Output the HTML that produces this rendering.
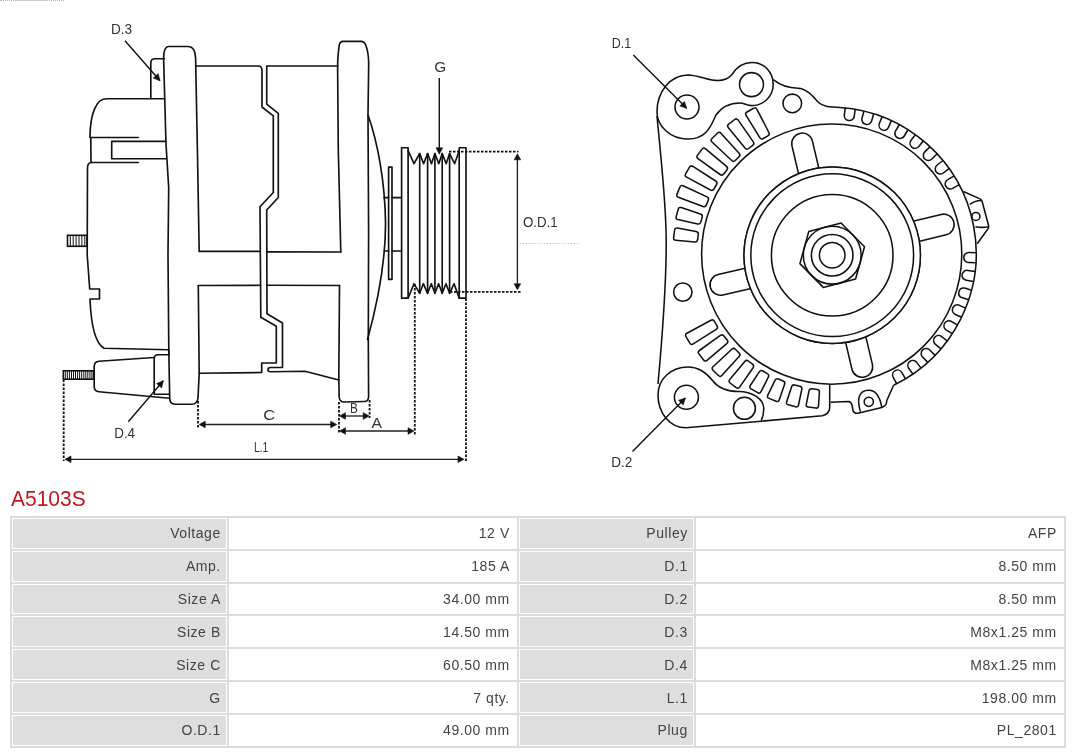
<!DOCTYPE html>
<html><head><meta charset="utf-8">
<style>
html,body{margin:0;padding:0;background:#fff;width:1080px;height:753px;overflow:hidden;}
body{position:relative;font-family:"Liberation Sans",sans-serif;}
svg.dr{position:absolute;left:0;top:0;filter:grayscale(1);}
.k{fill:none;stroke:#111;stroke-width:1.65;stroke-linejoin:round;stroke-linecap:round;}
.k2{fill:none;stroke:#111;stroke-width:1.6;}
.h{stroke:#111;stroke-width:1;}
.r{fill:none;stroke:#111;stroke-width:1.55;stroke-linejoin:round;}
.dm{stroke:#222;stroke-width:1.35;}
.ld{stroke:#111;stroke-width:1.4;}
.ds{stroke:#111;stroke-width:1.8;stroke-dasharray:2.5 1.5;}
.lb{font-family:"Liberation Sans",sans-serif;font-size:15px;fill:#333;}
.topdots{position:absolute;left:0;top:0;width:64px;height:0;border-top:1px dotted #bbb;}
.topbar{position:absolute;left:16px;top:0;width:32px;height:1px;background:#c9cdd2;}
h1{position:absolute;left:11px;top:486.5px;margin:0;font-size:21px;font-weight:normal;color:#c1161f;line-height:24px;transform:scaleY(1.065);transform-origin:0 19.3px;}
table{filter:grayscale(1);position:absolute;left:10px;top:516px;width:1056px;border-collapse:separate;border-spacing:2px;background:#dcdcdc;table-layout:fixed;}
td{border:1px solid #fff;height:30.83px;padding:0 5.2px 0 0;text-align:right;font-size:14px;letter-spacing:0.56px;color:#444;box-sizing:border-box;}
td.l{background:#dedede;}
td.v{background:#fff;padding-right:6.2px;}
</style></head><body>
<div class="topdots"></div><div class="topbar"></div>
<svg class="dr" width="1080" height="480" viewBox="0 0 1080 480">
<path class="k" d="M199.2,251.3 L197.5,155 L195.6,58 C195.2,51 192.5,46.5 188.5,46.5 L168.5,46.5 C165.5,46.5 163.8,51 163.6,58 L166,144 L168.7,187.5 L168,255 L168.8,350 L169.7,398 C169.7,401 171,404.2 175,404.2 L192,404.2 C195,404.2 197.5,402 198,398 L199.2,373.3 L198.3,285.5"/>
<path class="k" d="M164.5,58.7 L155,58.7 C152,58.7 150.8,60.5 150.8,63 L150.8,98.3"/>
<path class="k" d="M164.8,98.7 L106,98.7 C96,98.7 90,115 90,137.5 L138.3,137.5"/>
<path class="k" d="M90.8,137.5 L91,162.5 L138.3,162.5"/>
<path class="k" d="M166,141.3 L111.7,141.3 L111.7,158.7 L166.3,158.7"/>
<path class="k" d="M91,162.5 C88.5,163 87.5,165 87.5,168 L87.2,255 L89.7,289 L99.5,289 L99.5,299 L90,299 C91,325 95,343 104,348.3 L168.5,349.7"/>
<rect class="k2" x="67.5" y="235.3" width="19.5" height="11"/>
<line class="h" x1="70.3" y1="235.3" x2="70.3" y2="246.3"/>
<line class="h" x1="73.2" y1="235.3" x2="73.2" y2="246.3"/>
<line class="h" x1="76.1" y1="235.3" x2="76.1" y2="246.3"/>
<line class="h" x1="79.0" y1="235.3" x2="79.0" y2="246.3"/>
<line class="h" x1="81.9" y1="235.3" x2="81.9" y2="246.3"/>
<line class="h" x1="84.8" y1="235.3" x2="84.8" y2="246.3"/>
<path class="k" d="M154.2,357.5 L99,361.2 C96,361.5 94.2,363.5 94.2,366.5 L94.2,386.5 C94.2,389.5 96,391.5 99,391.7 L169.4,398.3"/>
<path class="k" d="M169,354.7 L158,354.7 C155.5,354.7 154.2,356.5 154.2,359 L154.2,394.2 L169.2,394.2"/>
<path class="k" d="M168.8,350.5 L168.8,354.7"/>
<rect class="k2" x="63.3" y="370.8" width="30.4" height="8.4"/>
<line class="h" x1="65.3" y1="370.8" x2="65.3" y2="379.2"/>
<line class="h" x1="67.3" y1="370.8" x2="67.3" y2="379.2"/>
<line class="h" x1="69.4" y1="370.8" x2="69.4" y2="379.2"/>
<line class="h" x1="71.5" y1="370.8" x2="71.5" y2="379.2"/>
<line class="h" x1="73.5" y1="370.8" x2="73.5" y2="379.2"/>
<line class="h" x1="75.5" y1="370.8" x2="75.5" y2="379.2"/>
<line class="h" x1="77.6" y1="370.8" x2="77.6" y2="379.2"/>
<line class="h" x1="79.6" y1="370.8" x2="79.6" y2="379.2"/>
<line class="h" x1="81.7" y1="370.8" x2="81.7" y2="379.2"/>
<line class="h" x1="83.8" y1="370.8" x2="83.8" y2="379.2"/>
<line class="h" x1="85.8" y1="370.8" x2="85.8" y2="379.2"/>
<line class="h" x1="87.8" y1="370.8" x2="87.8" y2="379.2"/>
<line class="h" x1="89.9" y1="370.8" x2="89.9" y2="379.2"/>
<line class="h" x1="91.9" y1="370.8" x2="91.9" y2="379.2"/>
<path class="k" d="M195.8,66 L258.5,66 C261,66 262,68 262,71 L262,107 L273.3,115.8 L273.3,192.5 L260,206.7 L260.8,317.2 L276.3,326.3 L276.3,363 L261.7,363 L261.7,372.5 L199.2,373.3"/>
<path class="k" d="M338,66 L266.7,66 L266.7,104.2 L278.3,113.3 L278.3,197.5 L266.7,210 L267,313.7 L282.5,323 L282.5,367.5 L270.5,367.5 C268.5,367.5 268,368.5 268,370 C268,371.5 269,371.7 270.5,371.7 L305,371.3 L338.8,380"/>
<path class="k" d="M199.2,251.3 L260,251.3 M266.7,251.8 L340.8,252"/>
<path class="k" d="M198.3,285.5 L260.7,285.3 M267,285.3 L339.5,285.5"/>
<path class="k" d="M340.8,252 L338.3,150 L337.6,66 C337.8,58 338.5,50 339.2,45.5 C339.6,42.5 340.5,41.3 343,41.3 L361.5,41.3 C363.5,41.3 364.5,42.5 365.5,44.5 C367,48 368.5,54 368.7,63 L368,115 L368.6,230 L368.3,340 L368.6,396.5 C368.6,400 367,401.5 364.5,401.5 L344,402 C341,402 339.2,399.5 339.2,396.5 L338.8,380 L339.5,285.5"/>
<path class="k" d="M368,115 C378,143 385,183 385.5,222 C385.8,265 377,305 367.5,339.5"/>
<rect class="k" x="388.6" y="167.1" width="3.4" height="112.3"/>
<path class="k" d="M384,197.6 L388.6,197.6 M392,197.6 L401.6,197.6 M384.5,251 L388.6,251 M392,251 L401.6,251"/>
<rect class="k" x="401.6" y="147.7" width="6.5" height="150.4"/>
<rect class="k" x="459.2" y="147.7" width="6.8" height="150.4"/>
<path class="k" d="M408.1,150.7 L414,163.7 L419.7,153.5 L423.6,163.7 L427.6,153.5 L431.5,163.7 L434.9,153.5 L438.8,163.7 L442.2,153.5 L446.2,163.7 L449.6,153.5 L454.6,163.7 L459.2,150.7"/>
<path class="k" d="M408.1,298.1 L414,283.7 L419.7,293.3 L423.3,283.7 L427.6,293.3 L431.3,283.7 L434.9,293.3 L438.6,283.7 L442.2,293.3 L446,283.7 L449.6,293.3 L454.1,283.7 L459.2,298.1"/>
<line class="k" x1="419.7" y1="153.5" x2="419.7" y2="293.3"/>
<line class="k" x1="427.6" y1="153.5" x2="427.6" y2="293.3"/>
<line class="k" x1="434.9" y1="153.5" x2="434.9" y2="293.3"/>
<line class="k" x1="442.2" y1="153.5" x2="442.2" y2="293.3"/>
<line class="k" x1="449.6" y1="153.5" x2="449.6" y2="293.3"/>
<line class="ds" x1="449" y1="151.7" x2="518.5" y2="151.7"/>
<line class="ds" x1="450" y1="291.9" x2="521.5" y2="291.9"/>
<line class="ds" x1="63.7" y1="379.5" x2="63.7" y2="461"/>
<line class="ds" x1="198" y1="401" x2="198" y2="427.5"/>
<line class="ds" x1="339" y1="402" x2="339" y2="434"/>
<line class="ds" x1="369.6" y1="400" x2="369.6" y2="418"/>
<line class="ds" x1="414.8" y1="284" x2="414.8" y2="434.5"/>
<line class="ds" x1="466" y1="298.5" x2="466" y2="461.5"/>
<line x1="519.5" y1="243.5" x2="580" y2="243.5" stroke="#ccc" stroke-width="1" stroke-dasharray="1.5 1.5"/>
<line x1="517.4" y1="156.8" x2="517.4" y2="286.8" class="dm"/><path d="M517.4,153.8 L520.7,159.8 L514.1,159.8 Z" fill="#111" stroke="#111" stroke-width="0.6" stroke-linejoin="miter"/><path d="M517.4,289.8 L514.1,283.8 L520.7,283.8 Z" fill="#111" stroke="#111" stroke-width="0.6" stroke-linejoin="miter"/>
<line x1="202.2" y1="424.5" x2="333.7" y2="424.5" class="dm"/><path d="M199.2,424.5 L205.2,421.2 L205.2,427.8 Z" fill="#111" stroke="#111" stroke-width="0.6" stroke-linejoin="miter"/><path d="M336.7,424.5 L330.7,427.8 L330.7,421.2 Z" fill="#111" stroke="#111" stroke-width="0.6" stroke-linejoin="miter"/>
<line x1="342.5" y1="416" x2="366.2" y2="416" class="dm"/><path d="M339.5,416.0 L345.5,412.7 L345.5,419.3 Z" fill="#111" stroke="#111" stroke-width="0.6" stroke-linejoin="miter"/><path d="M369.2,416.0 L363.2,419.3 L363.2,412.7 Z" fill="#111" stroke="#111" stroke-width="0.6" stroke-linejoin="miter"/>
<line x1="342.5" y1="431" x2="411" y2="431" class="dm"/><path d="M339.5,431.0 L345.5,427.7 L345.5,434.3 Z" fill="#111" stroke="#111" stroke-width="0.6" stroke-linejoin="miter"/><path d="M414.0,431.0 L408.0,434.3 L408.0,427.7 Z" fill="#111" stroke="#111" stroke-width="0.6" stroke-linejoin="miter"/>
<line x1="68" y1="459.3" x2="461" y2="459.3" class="dm"/><path d="M65.0,459.3 L71.0,456.0 L71.0,462.6 Z" fill="#111" stroke="#111" stroke-width="0.6" stroke-linejoin="miter"/><path d="M464.0,459.3 L458.0,462.6 L458.0,456.0 Z" fill="#111" stroke="#111" stroke-width="0.6" stroke-linejoin="miter"/>
<line x1="439.3" y1="78" x2="439.3" y2="148" class="ld"/><path d="M439.3,154.3 L436.0,147.8 L442.6,147.8 Z" fill="#111" stroke="#111" stroke-width="0.6" stroke-linejoin="miter"/>
<line x1="125" y1="40.8" x2="160" y2="80.8" class="ld"/><path d="M160.0,80.8 L153.2,78.1 L158.2,73.7 Z" fill="#111" stroke="#111" stroke-width="0.6" stroke-linejoin="miter"/>
<line x1="128.3" y1="421.7" x2="163.3" y2="380.8" class="ld"/><path d="M163.3,380.8 L161.6,387.9 L156.6,383.6 Z" fill="#111" stroke="#111" stroke-width="0.6" stroke-linejoin="miter"/>
<line x1="633.3" y1="55" x2="686.7" y2="108.3" class="ld"/><path d="M686.7,108.3 L679.8,106.0 L684.4,101.4 Z" fill="#111" stroke="#111" stroke-width="0.6" stroke-linejoin="miter"/>
<line x1="632.5" y1="451.5" x2="685.4" y2="398" class="ld"/><path d="M685.4,398.0 L683.2,404.9 L678.5,400.3 Z" fill="#111" stroke="#111" stroke-width="0.6" stroke-linejoin="miter"/>
<text x="110.9" y="34.2" class="lb" textLength="21.2" lengthAdjust="spacingAndGlyphs">D.3</text>
<text x="434.2" y="71.7" class="lb" textLength="12.0" lengthAdjust="spacingAndGlyphs">G</text>
<text x="522.9" y="227.1" class="lb" textLength="34.8" lengthAdjust="spacingAndGlyphs">O.D.1</text>
<text x="263.2" y="420.1" class="lb" textLength="11.9" lengthAdjust="spacingAndGlyphs">C</text>
<text x="350.0" y="412.9" class="lb" textLength="7.9" lengthAdjust="spacingAndGlyphs">B</text>
<text x="371.6" y="427.8" class="lb" textLength="10.5" lengthAdjust="spacingAndGlyphs">A</text>
<text x="253.9" y="451.7" class="lb" textLength="14.5" lengthAdjust="spacingAndGlyphs">L.1</text>
<text x="114.2" y="438.3" class="lb" textLength="20.9" lengthAdjust="spacingAndGlyphs">D.4</text>
<text x="611.7" y="47.5" class="lb" textLength="19.5" lengthAdjust="spacingAndGlyphs">D.1</text>
<text x="611.2" y="467" class="lb" textLength="21.1" lengthAdjust="spacingAndGlyphs">D.2</text>
<circle class="r" cx="832.2" cy="255.2" r="12.8"/>
<circle class="r" cx="832.2" cy="255.2" r="20.8"/>
<circle class="r" cx="832.2" cy="255.2" r="28.9"/>
<path class="r" d="M841.1,223.0 L864.5,246.8 L855.6,279.0 L823.3,287.4 L799.9,263.6 L808.8,231.4 Z"/>
<circle class="r" cx="832.2" cy="255.2" r="60.8"/>
<circle class="r" cx="832.2" cy="255.2" r="81.4"/>
<circle class="r" cx="832.2" cy="255.2" r="88.2"/>
<circle class="r" cx="831.7" cy="254.1" r="130.1"/>
<path class="r" d="M80,-14.0 L115.5,-14.0 A10.5,10.5 0 0 1 115.5,7.0 L80,7.0" transform="translate(832.2,255.2) rotate(-103.3)" />
<path class="r" d="M80,-14.0 L115.5,-14.0 A10.5,10.5 0 0 1 115.5,7.0 L80,7.0" transform="translate(832.2,255.2) rotate(-13.6)" />
<path class="r" d="M80,-14.0 L115.5,-14.0 A10.5,10.5 0 0 1 115.5,7.0 L80,7.0" transform="translate(832.2,255.2) rotate(76.7)" />
<path class="r" d="M80,-14.0 L115.5,-14.0 A10.5,10.5 0 0 1 115.5,7.0 L80,7.0" transform="translate(832.2,255.2) rotate(166.9)" />
<circle cx="832.2" cy="255.2" r="88.2" fill="#fff" stroke="#111" stroke-width="1.5"/>
<circle class="r" cx="832.2" cy="255.2" r="81.4"/>
<circle class="r" cx="832.2" cy="255.2" r="60.8"/>
<circle class="r" cx="832.2" cy="255.2" r="12.8"/>
<circle class="r" cx="832.2" cy="255.2" r="20.8"/>
<circle class="r" cx="832.2" cy="255.2" r="28.9"/>
<path class="r" d="M841.1,223.0 L864.5,246.8 L855.6,279.0 L823.3,287.4 L799.9,263.6 L808.8,231.4 Z"/>
<path class="r" d="M698.3,234.5 Q698.6,232.0 696.1,231.5 L677.4,228.0 Q675.0,227.6 674.6,230.1 L673.6,237.6 Q673.3,240.1 675.8,240.3 L694.7,241.9 Q697.2,242.1 697.6,239.6 Z"/>
<path class="r" d="M702.2,217.1 Q702.8,214.6 700.4,213.9 L681.2,207.6 Q678.8,206.9 678.2,209.3 L676.2,216.6 Q675.5,219.0 677.9,219.6 L697.7,223.9 Q700.1,224.5 700.8,222.1 Z"/>
<path class="r" d="M708.3,200.3 Q709.3,198.0 707.0,196.9 L683.1,185.8 Q680.9,184.8 679.9,187.1 L677.0,194.1 Q676.0,196.4 678.3,197.2 L703.0,206.5 Q705.3,207.4 706.3,205.1 Z"/>
<path class="r" d="M716.6,184.5 Q717.8,182.3 715.7,181.0 L692.9,166.4 Q690.8,165.1 689.5,167.2 L685.6,173.8 Q684.4,176.0 686.6,177.1 L710.5,190.0 Q712.7,191.1 714.0,189.0 Z"/>
<path class="r" d="M726.9,169.9 Q728.4,167.9 726.5,166.3 L705.6,148.8 Q703.7,147.2 702.1,149.1 L697.5,155.1 Q695.9,157.1 698.0,158.6 L720.1,174.5 Q722.1,176.0 723.7,174.0 Z"/>
<path class="r" d="M739.0,156.8 Q740.8,155.1 739.1,153.2 L720.9,133.3 Q719.2,131.4 717.4,133.2 L712.0,138.5 Q710.2,140.3 712.0,142.0 L731.7,160.5 Q733.5,162.2 735.3,160.5 Z"/>
<path class="r" d="M752.7,145.4 Q754.7,143.9 753.3,141.9 L738.2,120.1 Q736.7,118.0 734.7,119.5 L728.7,124.1 Q726.7,125.6 728.2,127.6 L745.0,148.1 Q746.6,150.1 748.6,148.5 Z"/>
<path class="r" d="M767.8,135.9 Q770.0,134.7 768.9,132.5 L756.9,109.3 Q755.8,107.0 753.6,108.3 L747.0,112.0 Q744.8,113.2 746.1,115.4 L759.8,137.6 Q761.1,139.7 763.3,138.5 Z"/>
<path class="r" d="M714.4,321.3 Q713.2,319.1 711.0,320.3 L686.9,333.2 Q684.7,334.4 686.0,336.6 L689.8,343.1 Q691.1,345.3 693.2,343.9 L716.2,329.3 Q718.3,327.9 717.1,325.8 Z"/>
<path class="r" d="M724.0,336.0 Q722.5,334.0 720.4,335.4 L699.4,350.5 Q697.4,351.9 698.9,353.9 L703.6,359.9 Q705.1,361.9 707.0,360.3 L726.8,343.7 Q728.7,342.0 727.2,340.1 Z"/>
<path class="r" d="M735.4,349.3 Q733.6,347.5 731.8,349.2 L713.0,366.7 Q711.2,368.4 713.0,370.2 L718.4,375.5 Q720.2,377.3 721.8,375.5 L739.1,356.6 Q740.8,354.7 739.1,353.0 Z"/>
<path class="r" d="M748.4,361.0 Q746.4,359.5 744.8,361.5 L729.8,379.6 Q728.2,381.5 730.1,383.0 L736.2,387.6 Q738.2,389.1 739.6,387.1 L753.1,367.8 Q754.5,365.7 752.5,364.2 Z"/>
<path class="r" d="M762.8,371.0 Q760.6,369.8 759.2,371.9 L750.3,385.5 Q749.0,387.6 751.1,388.9 L757.7,392.7 Q759.9,393.9 761.0,391.7 L768.3,377.1 Q769.5,374.8 767.3,373.6 Z"/>
<path class="r" d="M778.4,379.0 Q776.0,378.1 775.0,380.3 L767.8,395.2 Q766.7,397.5 769.0,398.4 L776.1,401.3 Q778.4,402.3 779.2,399.9 L784.6,384.3 Q785.5,382.0 783.2,381.0 Z"/>
<path class="r" d="M794.8,385.0 Q792.4,384.3 791.6,386.7 L786.7,401.8 Q785.9,404.2 788.3,404.8 L795.6,406.8 Q798.0,407.4 798.5,405.0 L801.8,389.4 Q802.3,386.9 799.9,386.3 Z"/>
<path class="r" d="M812.0,388.7 Q809.5,388.4 809.0,390.8 L806.3,404.3 Q805.8,406.8 808.3,407.1 L815.9,408.1 Q818.3,408.4 818.5,405.9 L819.4,392.2 Q819.6,389.7 817.1,389.4 Z"/>
<path class="r" d="M855.2,109.1 L854.2,116.5 A5.0,5.0 0 0 1 844.3,115.2 L845.3,107.7"/>
<path class="r" d="M873.7,113.6 L871.7,120.8 A5.0,5.0 0 0 1 862.0,118.2 L864.0,110.9"/>
<path class="r" d="M891.4,120.4 L888.5,127.4 A5.0,5.0 0 0 1 879.3,123.5 L882.2,116.6"/>
<path class="r" d="M908.1,129.5 L904.3,136.0 A5.0,5.0 0 0 1 895.6,130.9 L899.4,124.5"/>
<path class="r" d="M923.4,140.7 L918.8,146.6 A5.0,5.0 0 0 1 910.9,140.5 L915.5,134.5"/>
<path class="r" d="M937.2,153.7 L931.9,159.0 A5.0,5.0 0 0 1 924.8,151.9 L930.2,146.6"/>
<path class="r" d="M949.2,168.4 L943.3,173.0 A5.0,5.0 0 0 1 937.2,165.0 L943.1,160.5"/>
<path class="r" d="M959.2,184.6 L952.7,188.3 A5.0,5.0 0 0 1 947.7,179.6 L954.2,175.9"/>
<path class="r" d="M976.1,262.7 L968.6,262.5 A5.0,5.0 0 0 1 968.9,252.5 L976.4,252.7"/>
<path class="r" d="M973.7,281.5 L966.3,280.3 A5.0,5.0 0 0 1 967.8,270.4 L975.2,271.6"/>
<path class="r" d="M968.9,299.8 L961.7,297.6 A5.0,5.0 0 0 1 964.5,288.1 L971.7,290.2"/>
<path class="r" d="M961.7,317.3 L954.9,314.2 A5.0,5.0 0 0 1 958.9,305.1 L965.8,308.1"/>
<path class="r" d="M952.4,333.7 L946.0,329.8 A5.0,5.0 0 0 1 951.2,321.3 L957.6,325.2"/>
<path class="r" d="M941.0,348.8 L935.2,344.1 A5.0,5.0 0 0 1 941.4,336.3 L947.3,341.0"/>
<path class="r" d="M927.8,362.4 L922.6,357.0 A5.0,5.0 0 0 1 929.8,350.0 L935.0,355.4"/>
<path class="r" d="M913.0,374.1 L908.5,368.0 A5.0,5.0 0 0 1 916.5,362.1 L921.0,368.1"/>
<path class="r" d="M896.7,383.8 L893.1,377.2 A5.0,5.0 0 0 1 901.8,372.3 L905.5,378.9"/>
<path class="r" d="M840.1,107.4 A146.4,146.4 0 0 1 893.6,385.2"/>
<path class="r" d="M963.4,191.5 L979.5,198.6 C981,199.2 981.5,200 982,201 L988.6,225.5 C988.9,227 988.5,228.5 987.5,229.5 L977.2,243.8"/>
<path class="r" d="M969.9,204.4 C973,201.5 977,200.5 981.5,200.4 M975.4,226.8 C980,227.6 984,227.6 988.7,226.8"/>
<circle class="r" cx="975.9" cy="216.4" r="4"/>
<path class="r" d="M773.2,79.6 C780,85 788,88 798,88.2 C806,88.5 812,95 818,102 C823,107 830,107.3 840.1,107.4"/>
<path class="r" d="M657,112 C657,92 670,75 688,75 C700,75.5 708,80.5 718,80.5 C725,80.5 729,78 732,74.5 C736,68 743,62.5 752,62.5 C764,62.5 773.2,72 773.2,84.6 C773.2,97 763,105.6 751.5,105.6 C747,105.6 744,103 740,103 C728,103 721,108 716,115 C712,123 708,139 688,139 C670,139 657,126 657,112 Z"/>
<circle class="r" cx="687" cy="107" r="12"/>
<circle class="r" cx="751.5" cy="84.6" r="12"/>
<circle class="r" cx="792.3" cy="103.4" r="9.3"/>
<path class="r" d="M657,116 C661,160 666,200 666.2,240 C666.5,290 662,340 658,384"/>
<circle class="r" cx="682.8" cy="292.1" r="9.2"/>
<path class="r" d="M658,395 C658,379 671,367 688,367 C698,367 706,372 713,381 C719,389 727,391.5 738.5,391.5 C752,391.5 763.8,399 763.8,408.3 C763.8,413 763,417 761.2,420.7"/>
<path class="r" d="M658,395 C658,413 670,427.8 686,427.8 L822.3,415.8 C826,415 829.7,412 829.7,408 L829.7,385"/>
<circle class="r" cx="686.4" cy="397.3" r="12"/>
<circle class="r" cx="744.4" cy="408.3" r="11"/>
<path class="r" d="M830.7,402.3 L848.3,401.4 C851,401.5 851.5,403 852,405 L853,410.6 C854,413 856,413.5 858,413.2 L881.8,407.4 C885,406.5 886.8,404 886.8,400.5 L893.6,385.2"/>
<path class="r" d="M860.4,411.6 C857,400 858,390.2 868.8,390.2 C876,390.2 880,397 881.8,407.4"/>
<circle class="r" cx="868.8" cy="401.8" r="4.6"/>
</svg>
<h1>A5103S</h1>
<table>
<colgroup><col style="width:215px"><col style="width:288px"><col style="width:175px"><col style="width:368px"></colgroup>
<tr><td class="l">Voltage</td><td class="v">12 V</td><td class="l">Pulley</td><td class="v">AFP</td></tr>
<tr><td class="l">Amp.</td><td class="v">185 A</td><td class="l">D.1</td><td class="v">8.50 mm</td></tr>
<tr><td class="l">Size A</td><td class="v">34.00 mm</td><td class="l">D.2</td><td class="v">8.50 mm</td></tr>
<tr><td class="l">Size B</td><td class="v">14.50 mm</td><td class="l">D.3</td><td class="v">M8x1.25 mm</td></tr>
<tr><td class="l">Size C</td><td class="v">60.50 mm</td><td class="l">D.4</td><td class="v">M8x1.25 mm</td></tr>
<tr><td class="l">G</td><td class="v">7 qty.</td><td class="l">L.1</td><td class="v">198.00 mm</td></tr>
<tr><td class="l">O.D.1</td><td class="v">49.00 mm</td><td class="l">Plug</td><td class="v">PL_2801</td></tr>
</table>
</body></html>
